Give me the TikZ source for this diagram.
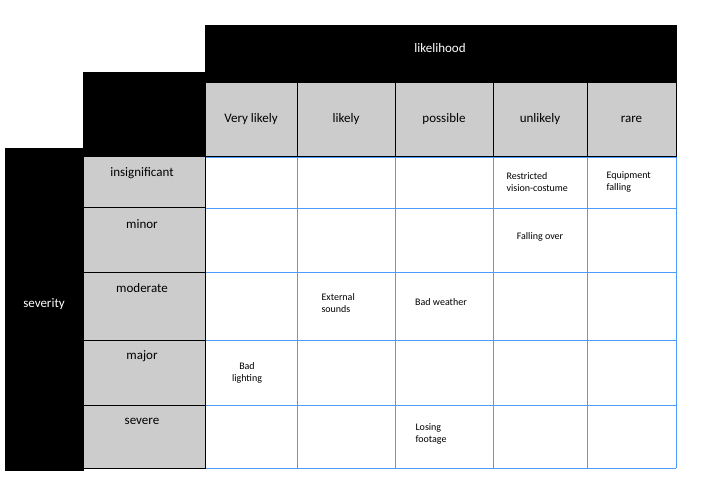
\documentclass[tikz,border=0pt]{standalone}
\usepackage{fontspec}
\setmainfont{Carlito}
\begin{document}
\begin{tikzpicture}[x=1pt,y=-1pt,
  blk/.style={fill=black,draw=black},
  hdr/.style={fill=gray!40,draw=black,line width=1pt},
  grid/.style={draw=blue!55!cyan!70,line width=0.6pt},
  lab/.style={font=\fontsize{13}{15}\selectfont},
  sm/.style={font=\fontsize{10}{12}\selectfont,align=left}]
\useasboundingbox (0,0) rectangle (718,500);
\fill[blk] (205,25) rectangle (676,83);
\node[lab,text=white] (lh) at (440,48) {likelihood};
\fill[blk] (83,72) rectangle (205,157);
\fill[blk] (5,148) rectangle (83,470);
\node[lab,text=white] (sv) at (44,304) {severity};
% column headers
\foreach \a/\b/\t [count=\i] in {205/297/Very likely,297/395/likely,395/493/possible,493/587/unlikely,587/676/rare}{
  \draw[hdr] (\a,83) rectangle (\b,157);
  \node[lab] (c\i) at ({(\a+\b)/2},119) {\t};
}
% grid
\fill[white] (205,157) rectangle (676,468);
\foreach \y in {157,208,272,340,405,468} \draw[grid] (205,\y) -- (676,\y);
\foreach \x in {205,297,395,493,587,676} \draw[grid] (\x,157) -- (\x,468);
% row headers
\foreach \a/\b/\t [count=\i] in {157/208/insignificant,208/272/minor,272/340/moderate,340/405/major,405/468/severe}{
  \draw[hdr] (83,\a) rectangle (205,\b);
  \node[lab] (r\i) at (142,\a+16) {\t};
}
\node[sm,anchor=west] (t1) at (503,182) {Restricted\\vision-costume};
\node[sm,anchor=west] (t2) at (603,182) {Equipment\\falling};
\node[sm] (t3) at (540,237) {Falling over};
\node[sm,anchor=west] (t4) at (318,303) {External\\sounds};
\node[sm] (t5) at (441,302) {Bad weather};
\node[sm,align=center] (t6) at (247,373) {Bad\\lighting};
\node[sm,anchor=west] (t7) at (412,434) {Losing\\footage};
\end{tikzpicture}
\end{document}
